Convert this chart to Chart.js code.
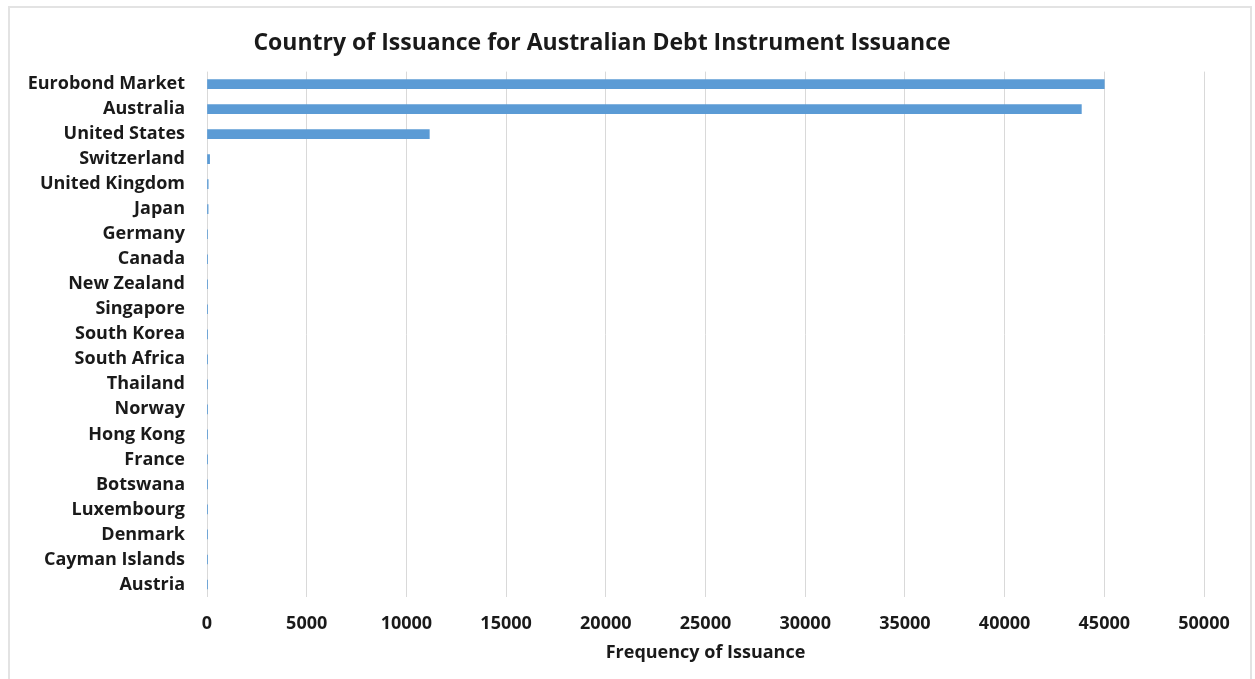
<!DOCTYPE html>
<html>
<head>
<meta charset="utf-8">
<script src="https://cdn.jsdelivr.net/npm/chart.js@4"></script>
<style>
  body { margin: 0; background: #fff; }
  #frame { position: absolute; left: 8px; top: 6px; width: 1240px; height: 690px; border: 2px solid #e3e3e3; }
  #wrap { position: absolute; left: 0; top: 0; width: 1255px; height: 679px; }
</style>
</head>
<body>
<div id="frame"></div>
<div id="wrap"><canvas id="myChart"></canvas></div>
<script>
//  chart data
const countries = [
    'Eurobond Market', 'Australia', 'United States', 'Switzerland', 'United Kingdom',
    'Japan', 'Germany', 'Canada', 'New Zealand', 'Singapore', 'South Korea',
    'South Africa', 'Thailand', 'Norway', 'Hong Kong', 'France', 'Botswana',
    'Luxembourg', 'Denmark', 'Cayman Islands', 'Austria'
]
const issuance = [45000, 43850, 11150, 130, 60, 55, 20, 15, 12, 10, 6, 5, 4, 4, 3, 3, 2, 2, 1, 1, 1]
const xTicks = [0, 5000, 10000, 15000, 20000, 25000, 30000, 35000, 40000, 45000, 50000]

const labelFont = { family: 'Open Sans', weight: 'bold', size: 18 }

const ctx = document.getElementById('myChart')

new Chart(ctx, {
  type: 'bar',
  data: {
    labels: countries,
    datasets: [{
      label: 'Frequency of Issuance',
      data: issuance,
      backgroundColor: '#5b9bd5',
      barThickness: 9
    }]
  },
  options: {
    indexAxis: 'y',
    responsive: true,
    maintainAspectRatio: false,
    animation: false,
    layout: { padding: { left: 0, right: 51, top: 0, bottom: 15 } },
    plugins: {
      legend: { display: false },
      tooltip: { enabled: false },
      title: {
        display: true,
        text: 'Country of Issuance for Australian Debt Instrument Issuance',
        color: '#1a1a1a',
        font: { family: 'Open Sans', weight: 'bold', size: 23 },
        padding: { top: 30, bottom: 14 }
      }
    },
    scales: {
      x: {
        min: 0,
        max: 50000,
        afterBuildTicks: s => { s.ticks = xTicks.map(v => ({ value: v })) },
        afterFit: s => { s.height = 67 },
        border: { display: false },
        grid: { color: '#d9d9d9', drawTicks: false },
        ticks: { color: '#1a1a1a', font: labelFont, padding: 16, maxRotation: 0, callback: v => String(v) },
        title: {
          display: true,
          text: 'Frequency of Issuance',
          color: '#1a1a1a',
          font: { family: 'Open Sans', weight: 'bold', size: 18 },
          padding: { top: 4, bottom: 0 }
        }
      },
      y: {
        afterFit: s => { s.width = 207 },
        border: { display: false },
        grid: { display: false, drawTicks: false },
        ticks: { color: '#1a1a1a', font: labelFont, padding: 22, autoSkip: false }
      }
    }
  }
})
</script>
</body>
</html>
